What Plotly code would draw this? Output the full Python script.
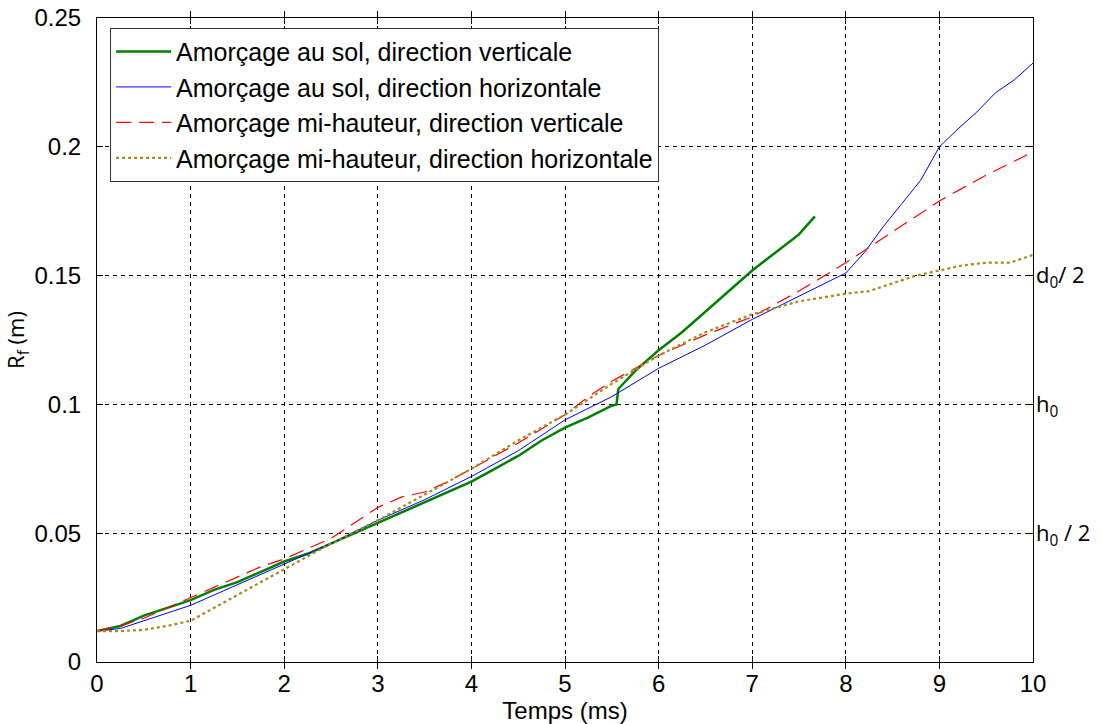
import plotly.graph_objects as go

# ---- data ----
t_green = [0, 0.25, 0.5, 0.75, 1, 1.25, 1.5, 1.75, 2, 2.25, 2.5, 2.75, 3, 3.25, 3.5, 3.75, 4, 4.25, 4.5, 4.75,
           5, 5.25, 5.5, 5.55, 5.57, 5.75, 6, 6.25, 6.5, 6.75, 7, 7.25, 7.5, 7.67]
r_green = [0.012, 0.014, 0.018, 0.021, 0.024, 0.028, 0.031, 0.035, 0.039, 0.042, 0.046, 0.050, 0.054, 0.058,
           0.062, 0.066, 0.070, 0.075, 0.080, 0.086, 0.091, 0.095, 0.0995, 0.100, 0.106, 0.113, 0.121, 0.128,
           0.136, 0.144, 0.152, 0.159, 0.166, 0.173]

t_blue = [0, 0.25, 0.5, 0.75, 1, 1.25, 1.5, 1.75, 2, 2.5, 3, 3.5, 4, 4.5, 5, 5.5, 6, 6.5, 7, 7.5, 8,
          8.2, 8.4, 8.6, 8.8, 9, 9.2, 9.4, 9.6, 9.8, 10]
r_blue = [0.012, 0.013, 0.016, 0.019, 0.022, 0.026, 0.030, 0.034, 0.038, 0.046, 0.055, 0.063, 0.072, 0.082,
          0.094, 0.103, 0.114, 0.123, 0.133, 0.142, 0.151, 0.159, 0.169, 0.178, 0.187, 0.200, 0.207, 0.2135,
          0.221, 0.226, 0.2325]

t_red = [0, 0.25, 0.5, 0.75, 1, 1.25, 1.5, 1.75, 2, 2.25, 2.5, 2.75, 3, 3.25, 3.5, 3.75, 4, 4.5, 5, 5.25,
         5.5, 6, 6.5, 7, 7.5, 8, 8.5, 9, 9.5, 10]
r_red = [0.012, 0.014, 0.017, 0.021, 0.025, 0.029, 0.033, 0.037, 0.040, 0.044, 0.048, 0.054, 0.060, 0.064,
         0.066, 0.070, 0.075, 0.085, 0.096, 0.103, 0.109, 0.119, 0.127, 0.134, 0.144, 0.155, 0.167, 0.179,
         0.189, 0.198]

t_olive = [0, 0.25, 0.5, 0.75, 1, 1.25, 1.5, 1.75, 2, 2.5, 3, 3.5, 4, 4.5, 5, 5.5, 6, 6.5, 7, 7.5, 8,
           8.25, 8.5, 8.75, 9, 9.25, 9.5, 9.75, 10]
r_olive = [0.012, 0.012, 0.0125, 0.014, 0.016, 0.021, 0.026, 0.031, 0.036, 0.046, 0.055, 0.065, 0.075, 0.086,
           0.096, 0.108, 0.119, 0.128, 0.135, 0.140, 0.143, 0.144, 0.147, 0.150, 0.152, 0.154, 0.155, 0.155,
           0.158]

names = ["Amorçage au sol, direction verticale",
         "Amorçage au sol, direction horizontale",
         "Amorçage mi-hauteur, direction verticale",
         "Amorçage mi-hauteur, direction horizontale"]

right_vals = [0.15, 0.1, 0.05]
right_text = ["d<sub>0</sub>/ 2", "h<sub>0</sub>", "h<sub>0</sub> / 2"]

x_ticks = list(range(0, 11))
y_ticks = [0, 0.05, 0.1, 0.15, 0.2, 0.25]
y_tick_text = ["0", "0.05", "0.1", "0.15", "0.2", "0.25"]

# ---- figure ----
fig = go.Figure()
fig.add_trace(go.Scatter(x=t_green, y=r_green, mode="lines", name=names[0],
                         line=dict(color="#008000", width=2.5)))
fig.add_trace(go.Scatter(x=t_blue, y=r_blue, mode="lines", name=names[1],
                         line=dict(color="#0000ff", width=1)))
fig.add_trace(go.Scatter(x=t_red, y=r_red, mode="lines", name=names[2],
                         line=dict(color="#ff0000", width=1.2, dash="15px,8px")))
fig.add_trace(go.Scatter(x=t_olive, y=r_olive, mode="lines", name=names[3],
                         line=dict(color="#a88a18", width=2.2, dash="dot")))
# invisible trace for right axis
fig.add_trace(go.Scatter(x=[0, 10], y=[0, 0.25], yaxis="y2", mode="lines",
                         line=dict(color="rgba(0,0,0,0)"), showlegend=False, hoverinfo="skip"))

axis_font = dict(family="Liberation Sans, Arial", size=24, color="black")
calibri_like = dict(family="Open Sans, Noto Sans", size=22, color="black")

fig.update_layout(
    width=1102, height=724,
    margin=dict(l=97, r=69, t=18, b=62, autoexpand=False),
    paper_bgcolor="white", plot_bgcolor="white",
    font=axis_font,
    xaxis=dict(range=[0, 10], tickvals=x_ticks, ticks="inside", ticklen=6, tickcolor="black",
               showline=True, linecolor="black", linewidth=1, mirror="allticks",
               showgrid=True, gridcolor="black", gridwidth=1, griddash="4px,4px",
               zeroline=False, tickfont=axis_font, automargin=False, ticklabelstandoff=0,
               ticklabeloverflow="allow",
               title=dict(text="Temps (ms)", font=axis_font, standoff=4)),
    yaxis=dict(range=[0, 0.25], tickvals=y_ticks, ticktext=y_tick_text, ticks="inside", ticklen=6,
               tickcolor="black", showline=True, linecolor="black", linewidth=1, mirror="allticks",
               showgrid=True, gridcolor="black", gridwidth=1, griddash="4px,4px",
               zeroline=False, tickfont=axis_font, automargin=False, ticklabelstandoff=10,
               ticklabeloverflow="allow",
               title=dict(text="R<sub>f</sub> (m)", font=calibri_like, standoff=6)),
    yaxis2=dict(range=[0, 0.25], overlaying="y", side="right", tickvals=right_vals, ticktext=right_text,
                ticks="", showgrid=False, zeroline=False, showline=False, automargin=False,
                ticklabelstandoff=2, ticklabeloverflow="allow",
                tickfont=dict(family="Open Sans, Noto Sans", size=22, color="black")),
    legend=dict(x=0.014, y=0.985, xanchor="left", yanchor="top",
                bgcolor="white", bordercolor="#333", borderwidth=1,
                font=dict(family="Liberation Sans, Arial", size=25, color="black"),
                tracegroupgap=0, itemwidth=55),
    showlegend=True,
)

fig.write_html("out.html", config={"displayModeBar": False},
               post_script="document.body.style.margin='0';")
